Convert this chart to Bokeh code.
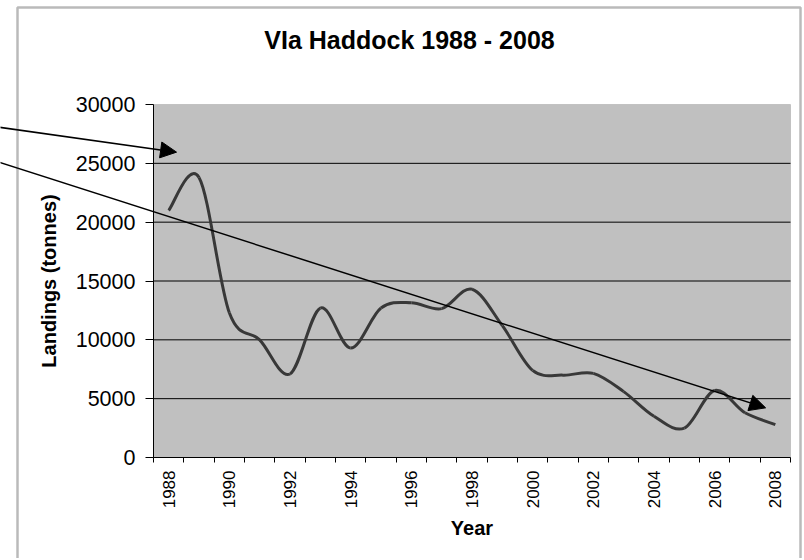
import math
import numpy as np
from bokeh.plotting import figure
from bokeh.models import (Range1d, FixedTicker, Arrow, NormalHead, Label, BoxAnnotation,
                          LinearAxis)
from bokeh.embed import file_html
from bokeh.resources import INLINE

# ---- data ----
years = list(range(1988, 2009))
landings = [21000, 23800, 12300, 10000, 7100, 12700, 9300, 12700, 13150, 12650,
            14300, 11200, 7400, 7000, 7150, 5600, 3500, 2500, 5700, 3800, 2800]
y_ticks = [0, 5000, 10000, 15000, 20000, 25000, 30000]
label_years = years[::2]
title_text = "VIa Haddock 1988 - 2008"
x_title = "Year"
y_title = "Landings (tonnes)"
# annotation arrows (category-index units, tonnes)
arrow1 = dict(x0=-5.1, y0=28070, x1=0.76, y1=25950)
arrow2 = dict(x0=-5.1, y0=25100, x1=20.18, y1=4220)

FONT = "Liberation Sans"
N = len(years)
YMAX = 30000

# ---- layout (pixels) ----
W, H = 803, 558          # canvas size
OX, OY = 0, 0            # canvas offset on the page
PL, PR, PT, PB = 153, 790, 104, 457   # plot area on the page
sx = (PR - PL) / N
sy = (PB - PT) / YMAX
x0_c = PL - OX
y0_c = PB - OY
x_start = -x0_c / sx
x_end = (W - x0_c) / sx
y_start = -(H - y0_c) / sy
y_end = y0_c / sy

def px_x(page_x):
    return (page_x - PL) / sx

def px_y(page_y):
    return (PB - page_y) / sy

p = figure(width=W, height=H, output_backend="svg", toolbar_location=None,
           x_range=Range1d(x_start, x_end), y_range=Range1d(y_start, y_end),
           x_axis_location=None, y_axis_location=None,
           min_border=0, min_border_left=0, min_border_right=0,
           min_border_top=0, min_border_bottom=0)
p.background_fill_color = "white"
p.border_fill_color = "white"
p.outline_line_color = None
p.xgrid.visible = False
p.ygrid.visible = False

# plot area background
p.add_layout(BoxAnnotation(left=0, right=N, bottom=0, top=YMAX,
                           fill_color="#C0C0C0", fill_alpha=1,
                           line_color="#808080", line_width=1, level="image"))

# horizontal gridlines inside the plot area
grid_vals = y_ticks[1:-1]
p.segment(x0=[0] * len(grid_vals), x1=[N] * len(grid_vals), y0=grid_vals, y1=grid_vals,
          line_color="black", line_width=1, level="underlay")

# y axis
ya = LinearAxis(fixed_location=0, bounds=(0, YMAX), ticker=FixedTicker(ticks=y_ticks))
ya.axis_line_color = "black"
ya.major_tick_line_color = "black"
ya.major_tick_out = 8
ya.major_tick_in = 0
ya.minor_tick_line_color = None
ya.major_label_text_font = FONT
ya.major_label_text_font_size = "21.5px"
ya.major_label_text_color = "black"
ya.major_label_standoff = 10
ya.axis_label = y_title
ya.axis_label_text_font = FONT
ya.axis_label_text_font_style = "bold"
ya.axis_label_text_font_size = "20px"
ya.axis_label_text_color = "black"
ya.axis_label_standoff = 13
p.add_layout(ya, "left")

# x axis (category style: ticks between categories, labels at centres)
centers = [i + 0.5 for i in range(N)]
label_pos = [i + 0.5 for i, y in enumerate(years) if y in label_years]
xa = LinearAxis(fixed_location=0, bounds=(0, N),
                ticker=FixedTicker(ticks=label_pos, minor_ticks=list(range(N + 1))))
xa.major_label_overrides = {i + 0.5: str(y) for i, y in enumerate(years) if y in label_years}
xa.major_tick_out = 0
xa.major_tick_in = 0
xa.minor_tick_out = 5
xa.minor_tick_in = 0
xa.minor_tick_line_color = "black"
xa.axis_line_color = "black"
xa.major_label_orientation = math.pi / 2
xa.major_label_text_font = FONT
xa.major_label_text_font_size = "17px"
xa.major_label_text_color = "black"
xa.major_label_standoff = 8
xa.axis_label = x_title
xa.axis_label_text_font = FONT
xa.axis_label_text_font_style = "bold"
xa.axis_label_text_font_size = "20px"
xa.axis_label_text_color = "black"
xa.axis_label_standoff = 6
p.add_layout(xa, "below")

# smoothed line (Bezier through yearly points, Excel style)
xs = np.array(centers)
ys = np.array(landings, dtype=float)
xp = np.concatenate([[xs[0]], xs, [xs[-1]]])
yp = np.concatenate([[ys[0]], ys, [ys[-1]]])
k = 1.0 / 6.0
cx0 = xs[:-1] + k * (xp[2:-1] - xp[:-3])
cy0 = ys[:-1] + k * (yp[2:-1] - yp[:-3])
cx1 = xs[1:] - k * (xp[3:] - xp[1:-2])
cy1 = ys[1:] - k * (yp[3:] - yp[1:-2])
p.bezier(x0=xs[:-1], y0=ys[:-1], x1=xs[1:], y1=ys[1:],
         cx0=cx0, cy0=cy0, cx1=cx1, cy1=cy1,
         line_color="#383838", line_width=3)

# arrows
for a in (arrow1, arrow2):
    p.add_layout(Arrow(x_start=a["x0"], y_start=a["y0"], x_end=a["x1"], y_end=a["y1"],
                       line_color="black", line_width=1.5,
                       end=NormalHead(size=16, fill_color="black", line_color="black", line_width=1)))

# title
p.add_layout(Label(x=px_x(409), y=px_y(39), text=title_text, text_align="center",
                   text_baseline="middle", text_font=FONT, text_font_style="bold",
                   text_font_size="25px", text_color="black"))

# outer chart border
p.add_layout(BoxAnnotation(left=px_x(17), right=px_x(800), top=px_y(7), bottom=px_y(700),
                           fill_alpha=0, line_color="#1a1a1a", line_width=2.5, level="overlay"))

open("out.html", "w").write(file_html(p, INLINE))
